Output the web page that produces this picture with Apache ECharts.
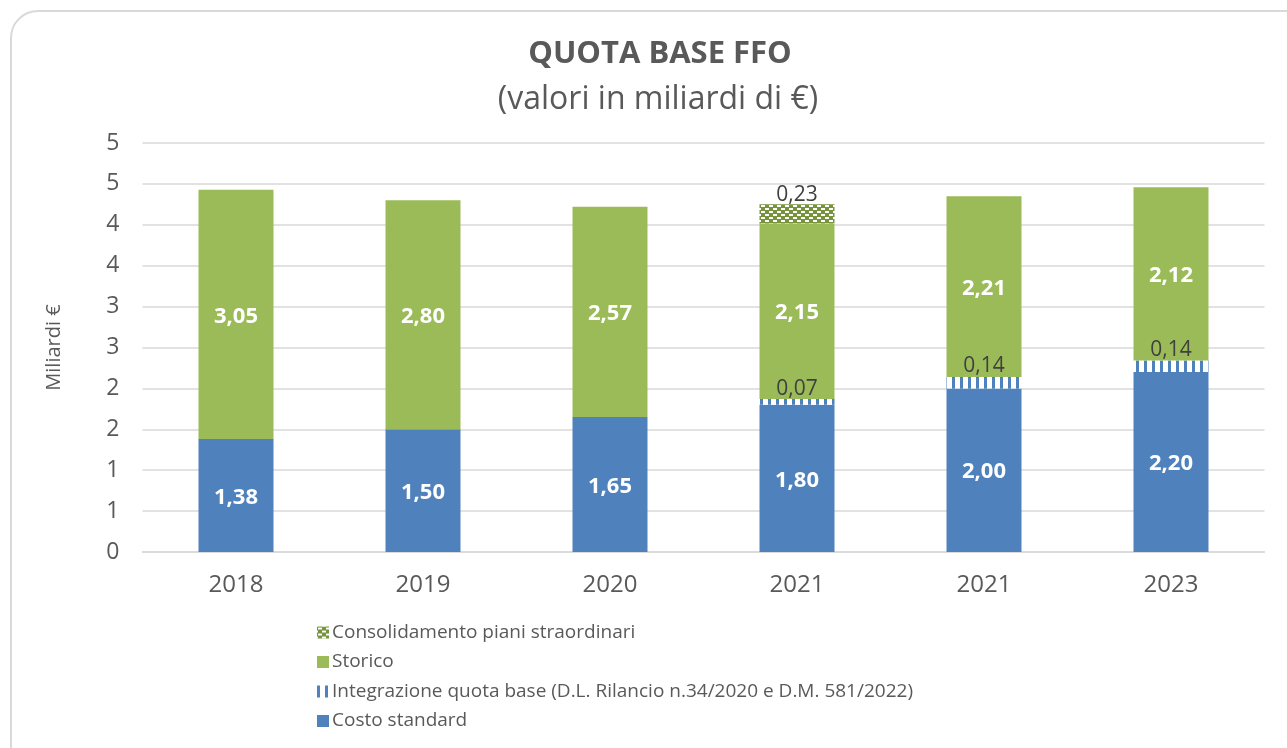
<!DOCTYPE html>
<html>
<head>
<meta charset="utf-8">
<script src="https://cdn.jsdelivr.net/npm/echarts@6/dist/echarts.min.js"></script>
<style>
  html, body { margin: 0; padding: 0; background: #fff; overflow: hidden; }
  #frame {
    position: absolute; left: 10px; top: 10px; width: 1400px; height: 900px;
    border: 2px solid #d9d9d9; border-radius: 28px; box-sizing: border-box;
  }
  #main { position: absolute; left: 0; top: 0; width: 1287px; height: 748px; }
</style>
</head>
<body>
<div id="frame"></div>
<div id="main"></div>
<script>
// dati (miliardi di €)
const anni = ['2018', '2019', '2020', '2021', '2021', '2023'];
const costoStandard = [1.38, 1.50, 1.65, 1.80, 2.00, 2.20];
const integrazione = [null, null, null, 0.07, 0.14, 0.14];
const storico = [3.05, 2.80, 2.57, 2.15, 2.21, 2.12];
const consolidamento = [null, null, null, 0.23, null, null];
const yTicks = { min: 0, max: 5, step: 0.5 };

const BLUE = '#4F81BD';
const GREEN = '#9BBB59';
const GREY = '#595959';
const FONT = '"Open Sans", sans-serif';

// pattern righe verticali (integrazione)
function stripePattern() {
    const c = document.createElement('canvas');
    c.width = 8; c.height = 8;
    const ctx = c.getContext('2d');
    ctx.fillStyle = '#fff';
    ctx.fillRect(0, 0, 8, 8);
    ctx.fillStyle = BLUE;
    ctx.fillRect(0, 0, 3, 8);
    return { image: c, repeat: 'repeat' };
}

// pattern a mattoncini (consolidamento)
function brickPattern() {
    const c = document.createElement('canvas');
    c.width = 8; c.height = 6;
    const ctx = c.getContext('2d');
    ctx.fillStyle = '#77933C';
    ctx.fillRect(0, 0, 8, 6);
    ctx.fillStyle = '#fff';
    ctx.fillRect(1, 1, 4, 2);
    ctx.fillRect(5, 4, 3, 2);
    ctx.fillRect(0, 4, 1, 2);
    return { image: c, repeat: 'repeat' };
}

const fmt = p => (p.value == null ? '' : p.value.toFixed(2).replace('.', ','));

const chart = echarts.init(document.getElementById('main'));
chart.setOption({
    animation: false,
    textStyle: { fontFamily: FONT },
    title: [
        {
            text: 'QUOTA BASE FFO', left: 655, top: 34, textAlign: 'center',
            textStyle: { fontFamily: FONT, fontSize: 31, fontWeight: 'bold', color: GREY }
        },
        {
            text: '(valori in miliardi di €)', left: 653, top: 79, textAlign: 'center',
            textStyle: { fontFamily: FONT, fontSize: 32, fontWeight: 'normal', color: GREY }
        }
    ],
    legend: {
        orient: 'vertical', left: 312, top: 618, itemGap: 10.5,
        itemWidth: 12, itemHeight: 12, icon: 'rect',
        data: ['Consolidamento piani straordinari', 'Storico',
               'Integrazione quota base (D.L. Rilancio n.34/2020 e D.M. 581/2022)', 'Costo standard'],
        textStyle: { fontFamily: FONT, fontSize: 19, color: GREY, padding: [0, 0, 0, -2] }
    },
    grid: { left: 142.5, right: 22.5, top: 143, bottom: 196 },
    xAxis: {
        type: 'category', data: anni,
        axisLine: { lineStyle: { color: '#d9d9d9', width: 1.5 } },
        axisTick: { show: false },
        axisLabel: { color: GREY, fontSize: 24, margin: 21, fontFamily: FONT }
    },
    yAxis: {
        type: 'value', min: yTicks.min, max: yTicks.max, interval: yTicks.step,
        name: 'Miliardi €', nameLocation: 'middle', nameGap: 78, nameRotate: 90,
        nameTextStyle: { color: GREY, fontSize: 20, fontFamily: FONT },
        axisLabel: { color: GREY, fontSize: 23, margin: 23, fontFamily: FONT,
                     formatter: v => String(Math.round(v)) },
        splitLine: { lineStyle: { color: '#d9d9d9', width: 1.5 } },
        axisLine: { show: false }, axisTick: { show: false }
    },
    series: [
        {
            name: 'Costo standard', type: 'bar', stack: 'ffo', barWidth: 75,
            data: costoStandard, itemStyle: { color: BLUE },
            label: { show: true, position: 'inside', color: '#fff', fontWeight: 'bold',
                     fontSize: 22, fontFamily: FONT, formatter: fmt, offset: [0, 2] }
        },
        {
            name: 'Integrazione quota base (D.L. Rilancio n.34/2020 e D.M. 581/2022)',
            type: 'bar', stack: 'ffo', data: integrazione,
            itemStyle: { color: stripePattern() },
            label: { show: true, position: 'top', distance: 0, color: '#404040',
                     fontSize: 21, fontFamily: FONT, formatter: fmt }
        },
        {
            name: 'Storico', type: 'bar', stack: 'ffo', data: storico,
            itemStyle: { color: GREEN },
            label: { show: true, position: 'inside', color: '#fff', fontWeight: 'bold',
                     fontSize: 22, fontFamily: FONT, formatter: fmt, offset: [0, 2] }
        },
        {
            name: 'Consolidamento piani straordinari', type: 'bar', stack: 'ffo',
            data: consolidamento, itemStyle: { color: brickPattern() },
            label: { show: true, position: 'top', distance: -1, color: '#404040',
                     fontSize: 21, fontFamily: FONT, formatter: fmt }
        }
    ]
});
</script>
</body>
</html>
